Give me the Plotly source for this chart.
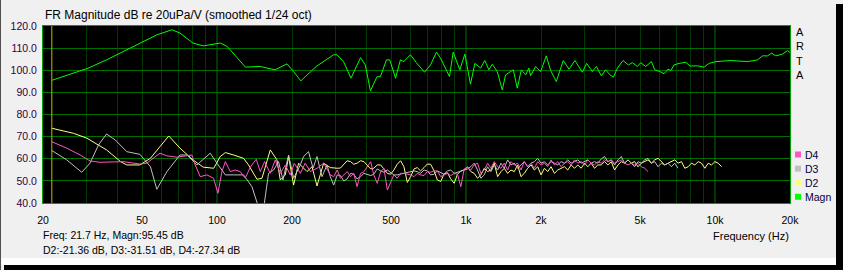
import plotly.graph_objects as go

# ---------------- data ----------------
magn_freq = [21.7, 30.3, 36, 42, 49, 57.3, 65.9, 71, 80, 88, 103, 110, 130, 149, 171, 191, 203, 217, 250, 294,
             303, 322, 345, 377, 394, 413, 439, 453, 479, 494, 521, 545, 562, 598, 632, 681, 720, 761, 794, 858,
             888, 944, 989, 1042, 1085, 1144, 1190, 1235, 1274, 1335, 1398, 1441, 1548, 1606, 1667, 1735, 1788,
             1816, 1903, 1993, 2100, 2186, 2304, 2458, 2590, 2738, 2932, 3050, 3216, 3338, 3496, 3638, 3784, 3906,
             4054, 4270, 4488, 4658, 4878, 5030, 5268, 5554, 5726, 6014, 6240, 6476, 6640, 6846, 7170, 7628, 7938,
             8502, 9038, 9466, 10074, 11576, 13506, 14816, 15518, 16252, 16866, 17552, 18670, 19558, 20000]
magn_db = [95.45, 100.9, 104.7, 108.5, 112.3, 116.0, 118.3, 116.8, 112.3, 111.0, 112.3, 110.7, 101.4, 101.7, 100.2,
           102.9, 99.4, 95.2, 101.7, 107.0,
           107.0, 103.9, 96.4, 105.7, 102.4, 90.7, 97.1, 97.1, 104.7, 104.7, 96.4, 104.7, 103.9, 107.0, 103.4, 99.1,
           102.4, 108.2, 105.0, 97.1, 108.2, 100.2, 107.3, 93.7, 103.1, 101.0, 104.4, 100.2, 102.7, 99.4, 91.1, 97.9,
           100.2, 91.9, 100.2, 97.9, 101.0, 97.5, 101.7, 99.4, 106.5, 99.9, 94.9, 104.4, 100.5, 104.4, 99.1, 103.1,
           99.4, 101.7, 97.5, 100.2, 97.9, 96.9, 101.0, 104.4, 102.4, 103.4, 101.7, 103.4, 101.7, 103.9, 100.2, 99.4,
           98.4, 100.5, 99.9, 102.4, 103.1, 103.6, 101.9, 102.0, 101.4, 103.1, 103.9, 104.4, 103.9, 104.7, 106.5,
           106.5, 107.7, 106.5, 107.3, 108.9, 108.0]

# low-frequency parts of the harmonic distortion curves
d2_lo_freq = [21.7, 26.5, 30.0, 36.0, 41.0, 43.4, 49.0, 54.0, 59.0, 64.0, 71.0, 80.0, 88.0, 97.0, 103, 108, 116.5,
              127.8, 133.8, 144.7, 151.5, 163.6, 174, 179.5, 188, 193.8, 203, 212.6, 229.8, 240.7, 252, 268]
d2_lo_db = [73.8, 71.5, 69.3, 64.0, 58.7, 57.2, 57.2, 60.2, 65.5, 70.3, 64.8, 59.5, 56.2, 55.7, 61.0, 62.8, 61.7,
            60.2, 57.2, 50.7, 51.2, 64.0, 59.5, 50.4, 52.7, 61.0, 48.1, 58.0, 54.2, 56.4, 47.7, 58.0]
d3_lo_freq = [21.7, 24.9, 28.6, 30.9, 33.4, 36.0, 39.0, 43.4, 49.0, 54.0, 57.3, 62.9, 71.0, 75.7, 83.0, 93.9, 99.9,
              108, 116.5, 127.8, 138.1, 146.8, 153.8, 161, 168.7, 176.6, 184, 193.8, 203, 216, 222.6, 233, 243,
              252, 264, 276.5]
d3_lo_db = [63.7, 59.5, 53.9, 58.0, 66.2, 71.2, 68.5, 63.2, 62.0, 56.4, 46.2, 54.2, 61.7, 61.7, 57.2, 62.5, 58.0,
            52.7, 52.7, 52.7, 47.4, 38.0, 37.5, 53.4, 54.9, 58.7, 50.4, 61.7, 51.2, 57.2, 61.0, 63.2, 55.7, 61.0,
            51.9, 57.2]
d4_lo_freq = [21.7, 24.9, 28.2, 30.9, 33.9, 42.0, 49.0, 52.2, 59.0, 62.9, 69.0, 75.7, 79.2, 81.7, 85.6, 91.0, 96.8,
              100.8, 104.6, 108, 113, 118.3, 123.9, 129.8, 136, 143.7, 149.2, 155.2, 163.6, 171.3, 179.5, 188,
              196.9, 204.3, 216, 226, 237, 252, 268]
d4_lo_db = [67.7, 64.8, 61.7, 59.0, 58.4, 58.7, 57.6, 58.0, 62.5, 61.3, 60.7, 61.4, 61.7, 57.2, 51.9, 52.7, 51.2,
            44.4, 54.2, 58.7, 54.2, 54.9, 54.2, 51.2, 56.2, 59.8, 54.2, 58.7, 53.4, 59.5, 53.4, 57.2, 52.7, 58.0,
            53.4, 58.0, 54.2, 55.7, 58.0]

# high-frequency parts (shared 1/24-octave-like frequency grid)
hf_freq = [285, 294, 304, 313, 323, 333, 344, 354, 365, 377, 389, 401, 414, 426, 440, 454, 468, 483, 498, 513,
           529, 546, 563, 581, 599, 618, 637, 657, 678, 699, 721, 744, 767, 791, 816, 842, 868, 896, 924, 953,
           983, 1013, 1045, 1078, 1112, 1147, 1183, 1220, 1258, 1298, 1339, 1381, 1424, 1469, 1515, 1562, 1611,
           1662, 1714, 1768, 1824, 1881, 1940, 2001, 2064, 2128, 2195, 2264, 2335, 2409, 2484, 2562, 2643, 2726,
           2811, 2899, 2991, 3084, 3181, 3281, 3384, 3490, 3600, 3713, 3830, 3950, 4074, 4202, 4334, 4470, 4610,
           4755, 4904, 5058, 5217, 5381, 5550, 5724, 5904, 6089, 6281, 6478, 6681, 6891, 7107, 7331, 7561, 7798,
           8043, 8296, 8556, 8825, 9102, 9388, 9683, 9987, 10300, 10624]
d2_hf_db = [56.0, 55.7, 55.7, 55.8, 57.5, 59.1, 58.7, 57.5, 58.0, 59.1, 58.7, 56.9, 55.4, 55.7, 57.2, 57.2, 55.4,
            53.4, 53.0, 54.9, 57.5, 59.1, 56.4, 49.3, 51.9, 55.4, 56.0, 54.5, 56.0, 57.6, 57.5, 54.5, 50.4, 49.7,
            53.1, 53.7, 50.9, 48.9, 53.0, 54.5, 54.9, 56.3, 54.2, 53.4, 51.2, 52.7, 55.7, 54.2, 54.9, 58.0, 51.9,
            54.2, 55.7, 53.4, 54.9, 54.2, 57.2, 51.9, 53.4, 55.7, 57.2, 54.9, 56.4, 52.7, 55.7, 54.2, 56.4, 53.4,
            54.9, 55.7, 56.4, 54.9, 57.2, 55.7, 57.2, 55.7, 58.0, 56.4, 58.0, 55.7, 57.2, 57.2, 58.7, 57.2, 58.7,
            54.9, 57.2, 58.7, 58.0, 59.5, 58.0, 58.7, 56.4, 58.0, 58.7, 59.5, 58.0, 59.5, 60.2, 58.7, 57.2, 58.0,
            58.7, 59.5, 58.0, 58.7, 55.7, 56.4, 58.0, 57.2, 58.7, 58.0, 55.7, 58.0, 57.2, 58.7, 58.0, 56.4]
d3_hf_db = [51.9, 48.1, 52.7, 52.4, 49.9, 50.9, 53.4, 53.0, 50.9, 51.9, 53.4, 53.0, 52.4, 53.0, 55.4, 54.5, 53.9,
            54.9, 53.9, 52.7, 52.7, 53.0, 53.4, 53.9, 54.2, 54.5, 54.2, 53.4, 54.9, 54.5, 52.7, 53.0, 54.5, 53.9,
            53.0, 54.5, 54.9, 53.4, 53.9, 54.5, 54.9, 55.4, 56.4, 58.0, 54.9, 51.2, 52.7, 56.4, 54.2, 57.2, 54.9,
            58.0, 55.7, 59.5, 57.2, 58.0, 55.7, 57.2, 58.7, 56.4, 58.0, 58.7, 60.2, 58.0, 58.7, 57.2, 58.7, 58.0,
            57.2, 58.7, 58.0, 59.5, 58.0, 58.7, 59.5, 58.0, 58.7, 59.5, 58.0, 58.7, 58.0, 59.9, 61.0, 58.7, 59.5,
            57.2, 59.5, 61.0, 58.0, 59.5, 58.0, 56.4, 58.7, 58.0, 59.5, 60.2, 58.0, 58.7, 56.4, 58.0, 57.2, 58.0,
            56.4, 58.0, 55.7]
d4_hf_db = [52.7, 51.9, 54.9, 51.2, 52.7, 54.2, 51.9, 53.4, 47.4, 53.4, 54.2, 56.4, 58.7, 52.7, 48.9, 54.2, 55.7,
            45.9, 49.7, 52.7, 51.2, 53.4, 53.4, 53.0, 52.7, 51.9, 53.4, 52.7, 52.4, 54.2, 53.9, 54.5, 54.5, 51.9,
            52.7, 53.4, 52.4, 53.4, 53.0, 47.4, 55.4, 56.0, 54.9, 57.2, 58.0, 53.4, 54.9, 58.0, 55.7, 58.7, 56.4,
            55.7, 58.0, 54.9, 58.7, 57.2, 58.0, 54.9, 58.7, 56.4, 58.0, 55.7, 58.7, 57.2, 58.0, 56.4, 59.5, 57.2,
            58.7, 56.4, 58.0, 58.7, 57.2, 59.5, 58.0, 58.7, 57.2, 59.5, 58.0, 57.2, 58.7, 58.0, 59.5, 58.7, 59.5,
            58.0, 58.7, 59.5, 58.0, 57.2, 58.0, 57.2, 58.0, 56.4, 55.7, 54.2]

cursor_freq = 21.7
x_tick_vals = [20, 30, 40, 50, 60, 70, 80, 90, 100, 200, 300, 400, 500, 600, 700, 800, 900,
               1000, 2000, 3000, 4000, 5000, 6000, 7000, 8000, 9000, 10000, 20000]
x_tick_text = ["20", "", "", "50", "", "", "", "", "100", "200", "", "", "500", "", "", "", "",
               "1k", "2k", "", "", "5k", "", "", "", "", "10k", "20k"]
major_grid = [100, 1000, 10000]
y_tick_vals = [40, 50, 60, 70, 80, 90, 100, 110, 120]
y_tick_text = ["40.0", "50.0", "60.0", "70.0", "80.0", "90.0", "100.0", "110.0", "120.0"]

legend_names = ["D4", "D3", "D2", "Magn"]
legend_colors = ["#FF55C8", "#C0C0C0", "#FFFF80", "#00FF00"]
title_text = "FR Magnitude dB re 20uPa/V (smoothed 1/24 oct)"
info1 = "Freq: 21.7 Hz, Magn:95.45 dB"
info2 = "D2:-21.36 dB, D3:-31.51 dB, D4:-27.34 dB"

# ---------------- figure ----------------
W, H = 843, 270
L, R, T, B = 43, 790, 26, 203
FONT = "Liberation Sans, Arial, sans-serif"


def px(x):
    return (x - L) / (R - L)


def py(y):
    return (B - y) / (B - T)


fig = go.Figure()

series = [
    (d2_lo_freq + hf_freq[:len(d2_hf_db)], d2_lo_db + d2_hf_db, "#FFFF80"),
    (d3_lo_freq + hf_freq[:len(d3_hf_db)], d3_lo_db + d3_hf_db, "#C0C0C0"),
    (d4_lo_freq + hf_freq[:len(d4_hf_db)], d4_lo_db + d4_hf_db, "#FF55C8"),
    (magn_freq, magn_db, "#00FF00"),
]
for f, v, c in series:
    fig.add_trace(go.Scatter(x=f, y=v, mode="lines", line=dict(color=c, width=1),
                             showlegend=False, hoverinfo="skip"))

shapes = []
for g in major_grid:
    shapes.append(dict(type="line", xref="x", yref="paper", x0=g, x1=g, y0=0, y1=1,
                       line=dict(color="#007800", width=1), layer="below"))
shapes.append(dict(type="line", xref="x", yref="paper", x0=cursor_freq, x1=cursor_freq, y0=0, y1=1,
                   line=dict(color="#C8B400", width=1)))
# window frame: dark left edge, shadow on right and bottom
shapes.append(dict(type="rect", xref="paper", yref="paper", x0=px(-2), x1=px(1), y0=py(H + 2), y1=py(-2),
                   fillcolor="#505050", line=dict(width=0), layer="below"))
shapes.append(dict(type="rect", xref="paper", yref="paper", x0=px(836), x1=px(W + 2), y0=py(H + 2), y1=py(4),
                   fillcolor="#000000", line=dict(width=0), layer="below"))
shapes.append(dict(type="rect", xref="paper", yref="paper", x0=px(4), x1=px(W + 2), y0=py(H + 2), y1=py(265),
                   fillcolor="#000000", line=dict(width=0), layer="below"))
shapes.append(dict(type="rect", xref="paper", yref="paper", x0=px(1), x1=px(836), y0=py(265), y1=py(258),
                   fillcolor="#FFFFFF", line=dict(width=0), layer="below"))

annotations = []


def ann(text, x, y, xanchor="left", size=12, color="#000000"):
    annotations.append(dict(text=text, x=px(x), y=py(y), xref="paper", yref="paper", showarrow=False,
                            xanchor=xanchor, yanchor="middle", font=dict(family=FONT, size=size, color=color)))


ann(title_text, 43, 15, size=12)
ann(info1, 41, 235, size=10.5)
ann(info2, 41, 250, size=10.5)
ann("Frequency (Hz)", 791, 236, xanchor="right", size=11)
annotations.append(dict(text="A<br>R<br>T<br>A", x=px(794), y=py(53), xref="paper", yref="paper",
                        showarrow=False, xanchor="left", yanchor="middle", align="left",
                        font=dict(family=FONT, size=11, color="#000000")))
for i, (nm, col) in enumerate(zip(legend_names, legend_colors)):
    yc = 154.5 + i * 14.1
    shapes.append(dict(type="rect", xref="paper", yref="paper", x0=px(795), x1=px(801), y0=py(yc + 3),
                       y1=py(yc - 3), fillcolor=col, line=dict(width=0)))
    ann(nm, 803, yc, size=10.5, color="#000040")

fig.update_layout(
    width=W, height=H, autosize=False,
    margin=dict(l=L, r=W - R, t=T, b=H - B, pad=0),
    paper_bgcolor="#F0F0F0", plot_bgcolor="#000000",
    font=dict(family=FONT, size=10, color="#000000"),
    shapes=shapes, annotations=annotations, showlegend=False,
)
fig.update_xaxes(type="log", range=[1.30103, 4.30103], tickvals=x_tick_vals, ticktext=x_tick_text,
                 showgrid=True, gridcolor="#003800", gridwidth=1, zeroline=False,
                 showline=True, linecolor="#00A000", linewidth=1, mirror=True,
                 ticks="", tickfont=dict(size=10.5, color="#000000"), ticklabelstandoff=7)
fig.update_yaxes(range=[40, 120], tickvals=y_tick_vals, ticktext=y_tick_text,
                 showgrid=True, gridcolor="#007000", gridwidth=1, zeroline=False,
                 showline=True, linecolor="#00A000", linewidth=1, mirror=True,
                 ticks="", tickfont=dict(size=10.5, color="#300040"), ticklabelstandoff=3)

fig.write_html("out.html")
